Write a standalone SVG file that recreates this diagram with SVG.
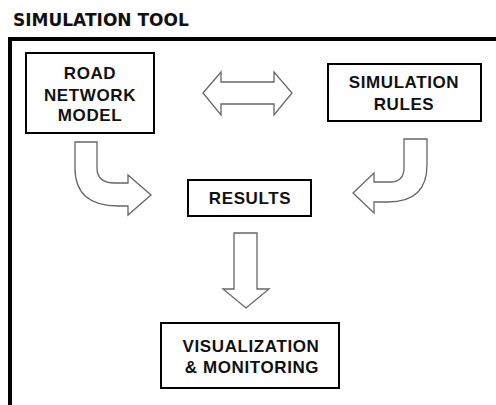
<svg xmlns="http://www.w3.org/2000/svg" width="496" height="405" viewBox="0 0 496 405">
<style>
.box{fill:#fff;stroke:#000;stroke-width:2}
.lbl{font-family:"Liberation Sans",Arial,sans-serif;font-weight:bold;font-size:17px;letter-spacing:0.6px;fill:#111;text-anchor:middle}
.arr{fill:#fff;stroke:#666;stroke-width:1.3;stroke-linejoin:miter}
</style>
<rect width="496" height="405" fill="#fff"/>
<text x="13" y="26" font-family="DejaVu Sans,Verdana,sans-serif" font-weight="bold" font-size="17" fill="#111">SIMULATION TOOL</text>
<rect x="10" y="39" width="500" height="400" fill="none" stroke="#000" stroke-width="4"/>
<g id="road-network-model">
<rect class="box" x="26" y="53" width="128" height="80"/>
<text class="lbl" x="90" y="78.5">ROAD</text>
<text class="lbl" x="90" y="100.5">NETWORK</text>
<text class="lbl" x="90" y="121">MODEL</text>
</g>
<g id="simulation-rules">
<rect class="box" x="328" y="64" width="153" height="57"/>
<text class="lbl" x="404" y="88">SIMULATION</text>
<text class="lbl" x="404" y="110">RULES</text>
</g>
<g id="results">
<rect class="box" x="188" y="180" width="123" height="36"/>
<text class="lbl" x="250" y="204">RESULTS</text>
</g>
<g id="visualization-monitoring">
<rect class="box" x="161" y="323" width="178" height="65"/>
<text class="lbl" x="251" y="351.5">VISUALIZATION</text>
<text class="lbl" x="252" y="373">&amp; MONITORING</text>
</g>
<g id="connectors">
<path class="arr" d="M203,93 L221,72 L221,82 L274,82 L274,72 L292,93 L274,115 L274,104 L221,104 L221,115 Z"/>
<path class="arr" d="M75,142 L97,142 L97,168 Q97,183 115,183 L128,183 L128,175 L151,195 L128,215 L128,206 L118,206 Q75,206 75,168 Z"/>
<path class="arr" d="M404,139 L427,139 L427,165 Q427,202 388,202 L374,202 L374,213 L353,193 L374,173 L374,182 L390,182 Q404,182 404,168 Z"/>
<path class="arr" d="M234,233 L257,233 L257,289 L269,289 L246,308 L223,289 L234,289 Z"/>
</g>
</svg>
